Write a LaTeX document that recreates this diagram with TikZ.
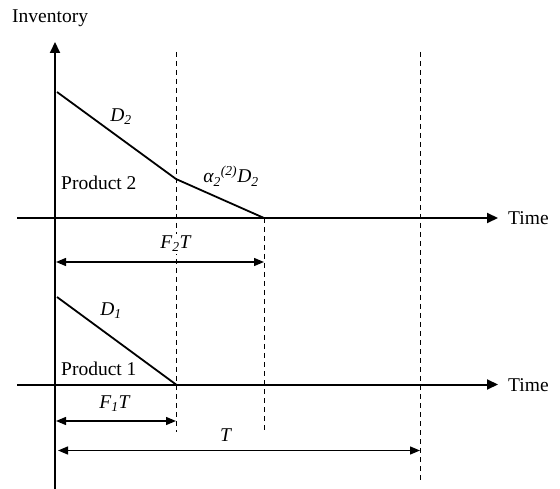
\documentclass[tikz,border=0pt]{standalone}
\usepackage{fontspec}
\setmainfont{Liberation Serif}
\usetikzlibrary{arrows.meta}
\tikzset{
  axis/.style={line width=2pt,-{Triangle[length=11pt,width=10pt]}},
  prodline/.style={line width=1.8pt},
  dim/.style={line width=1.3pt,{Triangle[length=10pt,width=8pt]}-{Triangle[length=10pt,width=8pt]}},
  guide/.style={line width=1pt,dash pattern=on 5pt off 4pt},
  lbl/.style={inner sep=0pt,font=\fontsize{19.5}{22}\selectfont},
}
\begin{document}
\begin{tikzpicture}[x=1pt,y=-1pt]
\useasboundingbox (0,0) rectangle (560,489);
% key coordinates
\coordinate (vbot) at (55,489);
\coordinate (vtop) at (55,42);
\coordinate (u0) at (17,218);
\coordinate (u1) at (498,218);
\coordinate (l0) at (17,384.5);
\coordinate (l1) at (498,384.5);
\coordinate (p2a) at (57,92);
\coordinate (p2b) at (176,179);
\coordinate (p2c) at (264,218);
\coordinate (p1a) at (57,297);
\coordinate (p1b) at (176,384.5);
\coordinate (g1t) at (176,52);
\coordinate (g1b) at (176,432);
\coordinate (g2t) at (264,218);
\coordinate (g2b) at (264,432);
\coordinate (g3t) at (420,52);
\coordinate (g3b) at (420,482);
\coordinate (f2l) at (56,262);
\coordinate (f2r) at (264,262);
\coordinate (f1l) at (56,421);
\coordinate (f1r) at (176,421);
\coordinate (tl) at (58,450.5);
\coordinate (tr) at (420,450.5);
% guides
\draw[guide] (g1t) -- (g1b);
\draw[guide] (g2t) -- (g2b);
\draw[guide] (g3t) -- (g3b);
% axes
\draw[axis] (vbot) -- (vtop);
\draw[axis] (u0) -- (u1);
\draw[axis] (l0) -- (l1);
% inventory lines
\draw[prodline] (p2a) -- (p2b) -- (p2c);
\draw[prodline] (p1a) -- (p1b);
% dimension arrows
\draw[dim] (f2l) -- (f2r);
\draw[dim] (f1l) -- (f1r);
\draw[dim] (tl) -- (tr);
% labels
\node[lbl,anchor=west] (inv) at (12,18) {Inventory};
\node[lbl,anchor=west] (time2) at (508,218) {Time};
\node[lbl,anchor=west] (time1) at (508,385) {Time};
\node[lbl] (d2) at (121,117) {\textit{D\textsubscript{2}}};
\node[lbl,anchor=west] (prod2) at (61,183) {Product 2};
\node[lbl] (alpha) at (231,176) {\textit{α\textsubscript{2}\textsuperscript{(2)}D\textsubscript{2}}};
\node[lbl,fill=white,inner sep=2pt] (f2t) at (176,244) {\textit{F\textsubscript{2}T}};
\node[lbl] (d1) at (111,311) {\textit{D\textsubscript{1}}};
\node[lbl,anchor=west] (prod1) at (61,369) {Product 1};
\node[lbl] (f1t) at (115,404) {\textit{F\textsubscript{1}T}};
\node[lbl] (tt) at (226,435) {\textit{T}};
\end{tikzpicture}
\end{document}
